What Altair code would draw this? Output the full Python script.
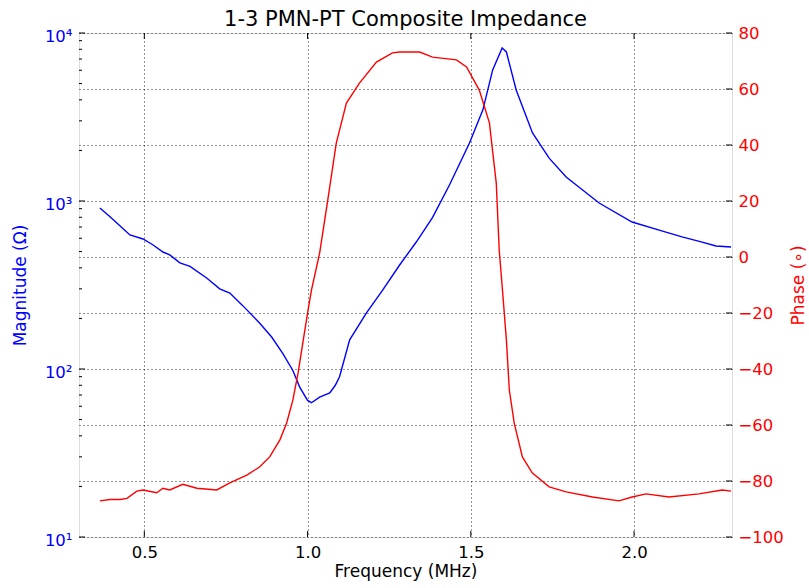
import altair as alt
import pandas as pd

# Magnitude (Ohm) vs frequency (MHz)
mag_freq = [0.364, 0.395, 0.426, 0.456, 0.496, 0.527, 0.557, 0.578, 0.609, 0.640,
            0.691, 0.731, 0.762, 0.800, 0.853, 0.890, 0.924, 0.955, 0.976, 1.000,
            1.012, 1.037, 1.068, 1.085, 1.098, 1.129, 1.180, 1.230, 1.282, 1.333,
            1.383, 1.435, 1.496, 1.537, 1.567, 1.596, 1.609, 1.639, 1.689, 1.740,
            1.792, 1.893, 1.994, 2.077, 2.147, 2.200, 2.251, 2.297]
mag_vals = [908, 805, 710, 628, 594, 547, 497, 478, 428, 408,
            348, 300, 283, 240, 188, 155, 124, 98, 78, 65,
            63, 68, 72, 80, 90, 149, 215, 295, 416, 570,
            800, 1250, 2213, 3487, 6030, 8150, 7710, 4580, 2540, 1800,
            1390, 973, 750, 671, 611, 575, 540, 532]

# Phase (degrees) vs frequency (MHz)
ph_freq = [0.364, 0.395, 0.426, 0.447, 0.477, 0.496, 0.538, 0.557, 0.578, 0.618,
           0.661, 0.722, 0.762, 0.814, 0.853, 0.884, 0.915, 0.936, 0.955, 0.971,
           0.987, 1.003, 1.012, 1.037, 1.062, 1.088, 1.119, 1.159, 1.211, 1.260,
           1.282, 1.343, 1.383, 1.456, 1.487, 1.526, 1.557, 1.578, 1.587, 1.597,
           1.609, 1.618, 1.633, 1.658, 1.688, 1.740, 1.792, 1.873, 1.954, 1.994,
           2.037, 2.107, 2.199, 2.270, 2.297]
ph_vals = [-87.1, -86.6, -86.6, -86.2, -83.6, -83.2, -84.2, -82.6, -83.2, -81.2,
           -82.6, -83.2, -80.7, -77.9, -75.0, -71.4, -65.4, -59.3, -51.1, -41.4,
           -29.6, -17.9, -11.8, 1.4, 20.4, 40.7, 55.0, 62.1, 69.6, 72.9,
           73.2, 73.2, 71.4, 70.4, 67.9, 59.6, 47.9, 26.4, 2.5, -11.8,
           -29.6, -47.5, -59.3, -71.4, -77.1, -82.1, -83.9, -85.7, -87.1, -85.7,
           -84.6, -85.7, -84.6, -83.2, -83.6]

x_ticks = [0.5, 1.0, 1.5, 2.0]
mag_major = [10, 100, 1000, 10000]
mag_minor = [20, 30, 40, 50, 60, 70, 80, 90,
             200, 300, 400, 500, 600, 700, 800, 900,
             2000, 3000, 4000, 5000, 6000, 7000, 8000, 9000]
ph_ticks = [-100, -80, -60, -40, -20, 0, 20, 40, 60, 80]

W, H = 653, 504
BLUE = "#0000ff"
RED = "#ff0000"
FONT = "DejaVu Sans"
TICK_FS = 16.5
TITLE_FS = 17

mag_df = pd.DataFrame({"f": mag_freq, "m": mag_vals})
ph_df = pd.DataFrame({"f": ph_freq, "p": ph_vals})
xt_df = pd.DataFrame({"v": x_ticks})
mmaj_df = pd.DataFrame({"v": mag_major})
mmin_df = pd.DataFrame({"v": mag_minor})
pt_df = pd.DataFrame({"v": ph_ticks})

xscale = alt.Scale(domain=[0.3, 2.3], nice=False, zero=False)
logscale = alt.Scale(type="log", domain=[10, 10000], nice=False)
phscale = alt.Scale(domain=[-100, 80], nice=False, zero=False)

sup_expr = ("datum.value == 10 ? '10¹' : datum.value == 100 ? '10²' : "
            "datum.value == 1000 ? '10³' : '10⁴'")

x_axis = alt.Axis(
    values=x_ticks, format=".1f", title="Frequency (MHz)",
    grid=True, gridDash=[1, 3], gridColor="black", gridWidth=1, gridOpacity=0.85,
    ticks=False, domain=False, labelFontSize=TICK_FS, labelColor="black",
    labelPadding=7, titleFontSize=TITLE_FS, titleColor="black",
    titleFontWeight="normal", titlePadding=3, labelFont=FONT, titleFont=FONT)
mag_axis = alt.Axis(
    orient="left", values=mag_major, labelExpr=sup_expr, grid=False,
    ticks=False, domain=False, labelFontSize=TICK_FS, labelColor=BLUE,
    labelPadding=7, labelOffset=3, title="Magnitude (Ω)", titleColor=BLUE,
    titleFontSize=TITLE_FS, titleFontWeight="normal", titlePadding=15,
    labelFont=FONT, titleFont=FONT)
ph_axis = alt.Axis(
    orient="right", values=ph_ticks, grid=True, gridDash=[1, 3],
    gridColor="black", gridWidth=1, gridOpacity=0.85, ticks=False, domain=False,
    labelFontSize=TICK_FS, labelColor=RED, labelPadding=6,
    title="Phase (∘)", titleColor=RED, titleFontSize=TITLE_FS, titleAngle=270,
    titleBaseline="top", titleFontWeight="normal", titlePadding=7,
    labelFont=FONT, titleFont=FONT)

X_f = alt.X("f:Q", scale=xscale, axis=x_axis)
X_v = alt.X("v:Q", scale=xscale, axis=x_axis)

blue_line = alt.Chart(mag_df).mark_line(color=BLUE, strokeWidth=1.4).encode(
    x=X_f, y=alt.Y("m:Q", scale=logscale, axis=mag_axis), order="f:Q")

left_major = alt.Chart(mmaj_df).mark_rule(color="black", strokeWidth=1).encode(
    y=alt.Y("v:Q", scale=logscale, axis=mag_axis),
    x=alt.value(0), x2=alt.value(6))
left_minor = alt.Chart(mmin_df).mark_rule(color="black", strokeWidth=1).encode(
    y=alt.Y("v:Q", scale=logscale, axis=mag_axis),
    x=alt.value(0), x2=alt.value(3))

red_line = alt.Chart(ph_df).mark_line(color=RED, strokeWidth=1.4).encode(
    x=X_f, y=alt.Y("p:Q", scale=phscale, axis=ph_axis), order="f:Q")

right_ticks = alt.Chart(pt_df).mark_rule(color="black", strokeWidth=1).encode(
    y=alt.Y("v:Q", scale=phscale, axis=ph_axis),
    x=alt.value(W), x2=alt.value(W - 6))

bottom_ticks = alt.Chart(xt_df).mark_rule(color="black", strokeWidth=1).encode(
    x=X_v, y=alt.value(H), y2=alt.value(H - 6))
top_ticks = alt.Chart(xt_df).mark_rule(color="black", strokeWidth=1).encode(
    x=X_v, y=alt.value(0), y2=alt.value(6))

mag_layer = alt.layer(blue_line, left_major, left_minor, bottom_ticks, top_ticks)
ph_layer = alt.layer(red_line, right_ticks)

chart = alt.layer(mag_layer, ph_layer).resolve_scale(y="independent").properties(
    width=W, height=H,
    title=alt.TitleParams("1-3 PMN-PT Composite Impedance", fontSize=21,
                          fontWeight="normal", color="black", font=FONT,
                          anchor="middle", frame="group", offset=-5),
    autosize=alt.AutoSizeParams(type="none"),
    padding={"left": 79, "top": 33, "right": 77, "bottom": 51},
    background="white",
).configure_view(stroke="black", strokeWidth=1.2).configure(font=FONT)

chart.save("out.html", embed_options={"renderer": "svg", "actions": False})
